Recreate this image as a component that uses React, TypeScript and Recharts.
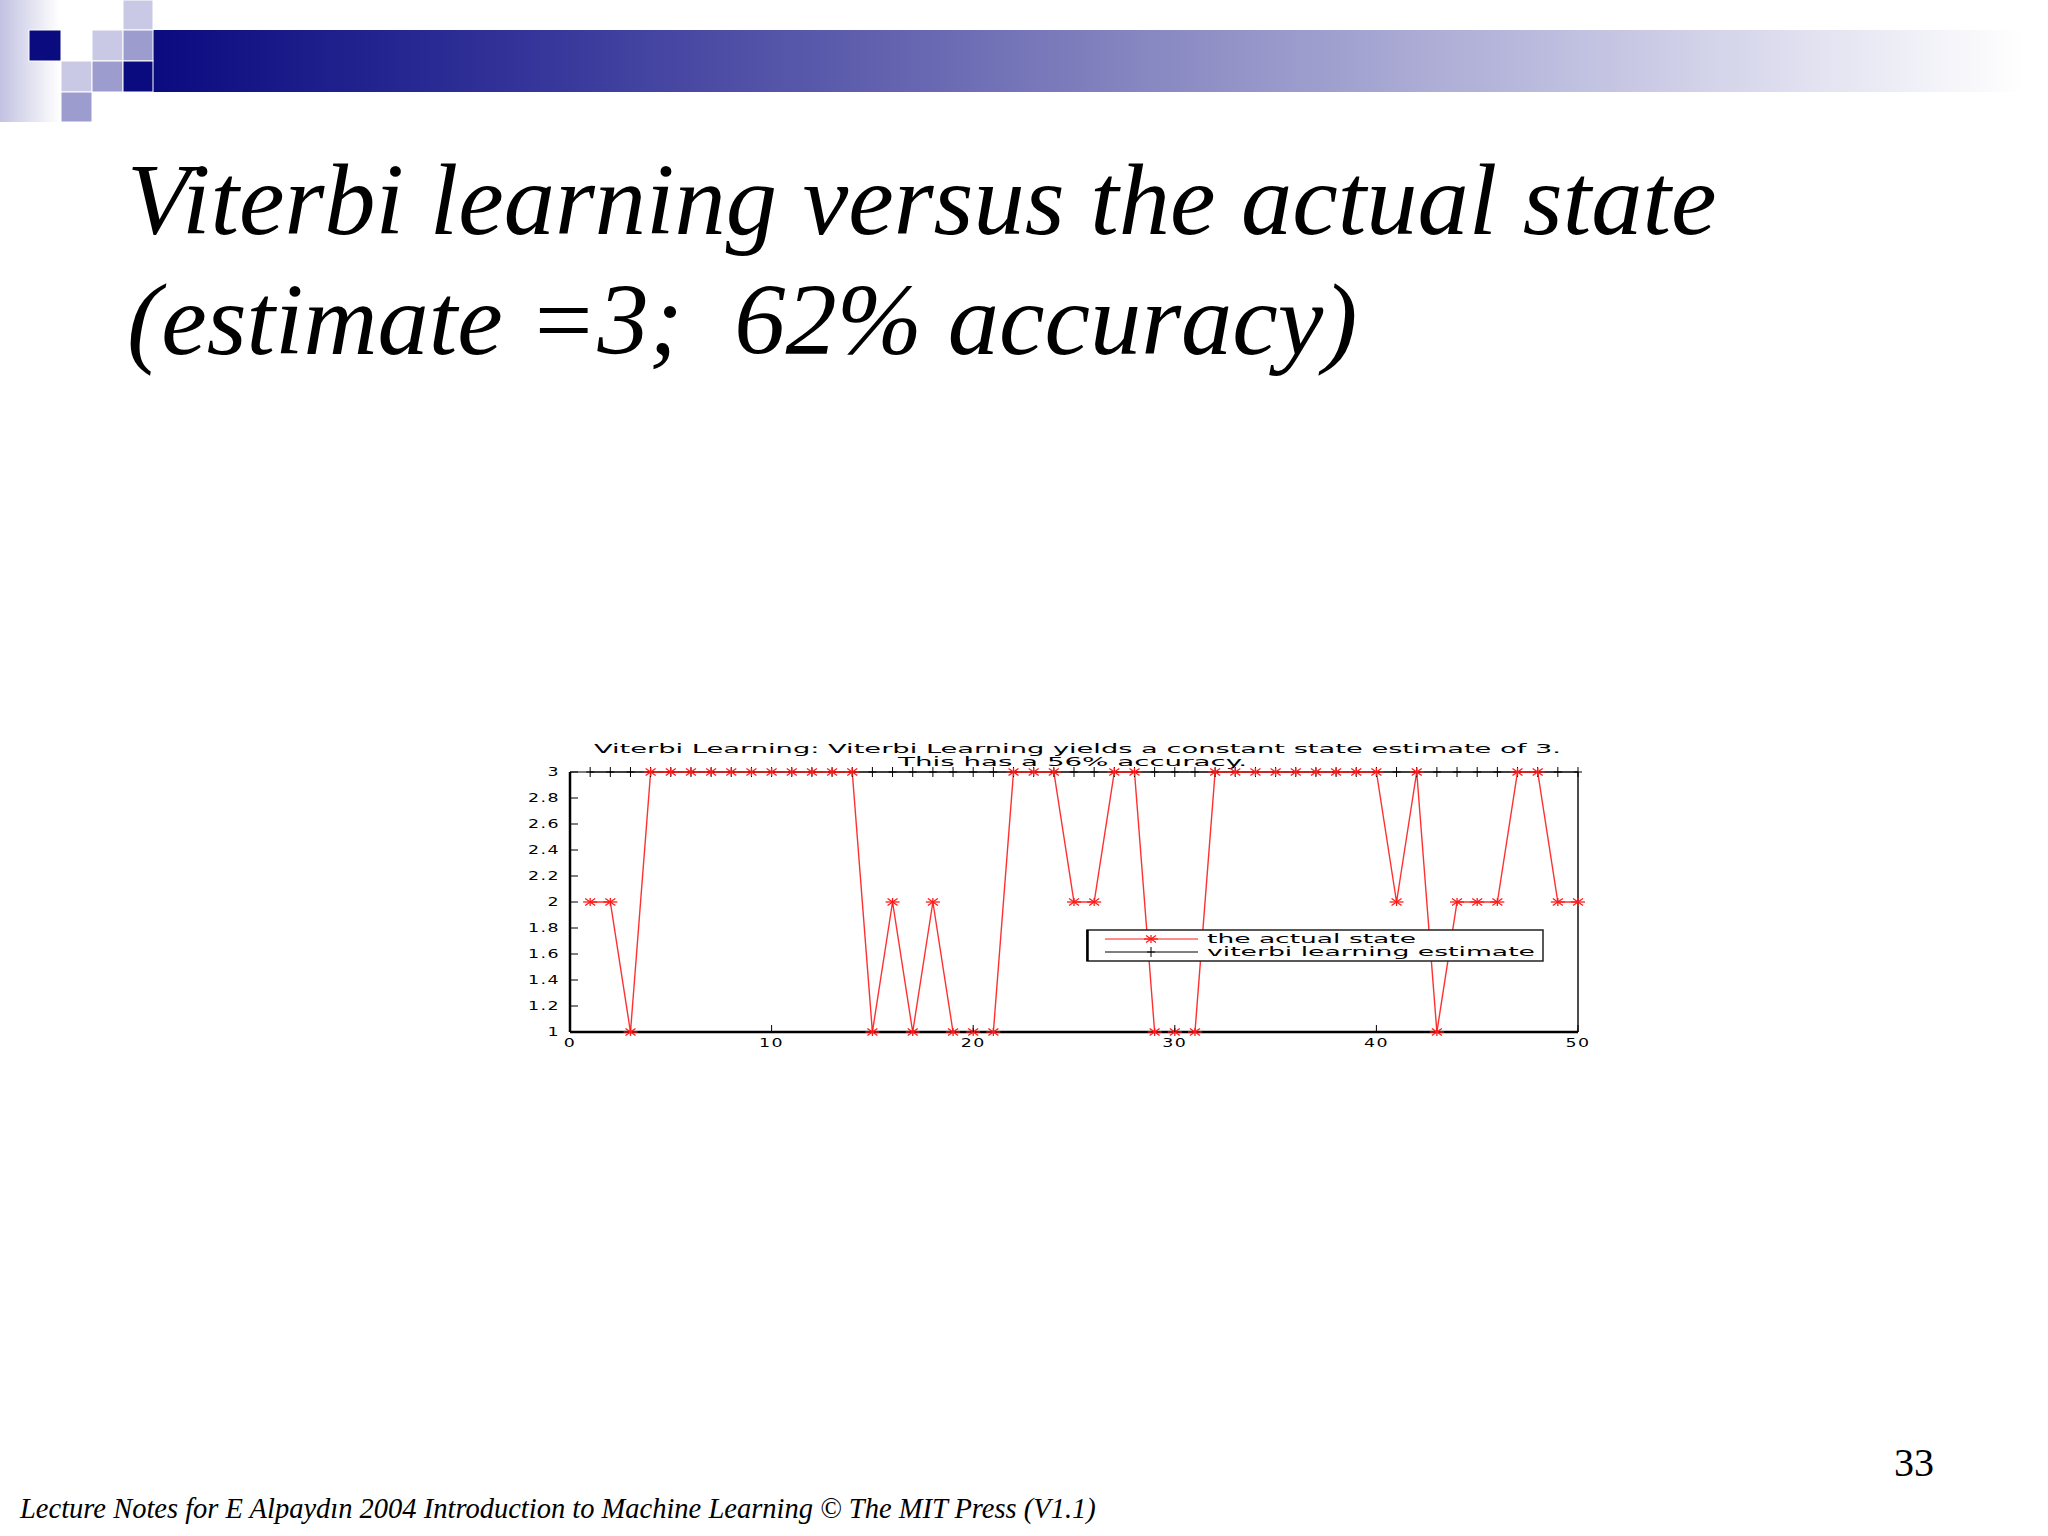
import { LineChart, Line, XAxis, YAxis, ReferenceLine } from 'recharts';

// time steps and the two state sequences
const timeSteps = [
    1, 2, 3, 4, 5, 6, 7, 8, 9, 10,
    11, 12, 13, 14, 15, 16, 17, 18, 19, 20,
    21, 22, 23, 24, 25, 26, 27, 28, 29, 30,
    31, 32, 33, 34, 35, 36, 37, 38, 39, 40,
    41, 42, 43, 44, 45, 46, 47, 48, 49, 50,
];
const actualState = [
    2, 2, 1, 3, 3, 3, 3, 3, 3, 3,
    3, 3, 3, 3, 1, 2, 1, 2, 1, 1,
    1, 3, 3, 3, 2, 2, 3, 3, 1, 1,
    1, 3, 3, 3, 3, 3, 3, 3, 3, 3,
    2, 3, 1, 2, 2, 2, 3, 3, 2, 2,
];
const viterbiEstimate = [
    3, 3, 3, 3, 3, 3, 3, 3, 3, 3,
    3, 3, 3, 3, 3, 3, 3, 3, 3, 3,
    3, 3, 3, 3, 3, 3, 3, 3, 3, 3,
    3, 3, 3, 3, 3, 3, 3, 3, 3, 3,
    3, 3, 3, 3, 3, 3, 3, 3, 3, 3,
];
const xTicks = [0, 10, 20, 30, 40, 50];
const yTicks = [1, 1.2, 1.4, 1.6, 1.8, 2, 2.2, 2.4, 2.6, 2.8, 3];
const plotTitle = [
    'Viterbi Learning:  Viterbi Learning yields a constant state estimate of 3.',
    'This has a 56% accuracy.',
];
const legendLabels = ['the actual state', 'viterbi learning estimate'];
const slideTitle = ['Viterbi learning versus the actual state', '(estimate =3;  62% accuracy)'];
const footer = 'Lecture Notes for E Alpaydın 2004 Introduction to Machine Learning © The MIT Press (V1.1)';
const pageNumber = '33';

const data = timeSteps.map((t, i) => ({ t, actual: actualState[i], viterbi: viterbiEstimate[i] }));

const RED = '#ff1a1a';
const MONO = 'DejaVu Sans';

const fmt = (v: number) => String(Math.round(v * 10) / 10);

// matlab-ish stretched label
const WideText = ({ x, y, anchor, children, size = 12 }: any) => (
    <text
        transform={`translate(${x},${y}) scale(1.45,1)`}
        textAnchor={anchor}
        fontSize={size}
        fontFamily={MONO}
        letterSpacing={1}
        fill="#000"
    >
        {children}
    </text>
);

const LeftTick = (props: any) => {
    const { x, y, payload } = props;
    return (
        <g>
            <line x1={x + 10} x2={x + 18} y1={y} y2={y} stroke="#000" strokeWidth={1} />
            <WideText x={x} y={y + 4} anchor="end">{fmt(payload.value)}</WideText>
        </g>
    );
};

const RightTick = (props: any) => {
    const { x, y } = props;
    return <line x1={x} x2={x - 8} y1={y} y2={y} stroke="#000" strokeWidth={1} />;
};

const BottomTick = (props: any) => {
    const { x, y, payload } = props;
    return (
        <g>
            <line x1={x} x2={x} y1={y - 10} y2={y - 17} stroke="#000" strokeWidth={1} />
            <WideText x={x} y={y + 5} anchor="middle">{fmt(payload.value)}</WideText>
        </g>
    );
};

const StarDot = ({ cx, cy }: any) => {
    if (cx == null || cy == null) return null;
    return (
        <g stroke={RED} strokeWidth={1.3}>
            <line x1={cx - 7} x2={cx + 7} y1={cy} y2={cy} />
            <line x1={cx} x2={cx} y1={cy - 4} y2={cy + 4} />
            <line x1={cx - 5} x2={cx + 5} y1={cy - 3.5} y2={cy + 3.5} />
            <line x1={cx - 5} x2={cx + 5} y1={cy + 3.5} y2={cy - 3.5} />
        </g>
    );
};

const PlusDot = ({ cx, cy }: any) => {
    if (cx == null || cy == null) return null;
    return (
        <g stroke="#000" strokeWidth={1}>
            <line x1={cx - 4} x2={cx + 4} y1={cy} y2={cy} />
            <line x1={cx} x2={cx} y1={cy - 5} y2={cy + 5} />
        </g>
    );
};

const LegendBox = () => (
    <svg width={458} height={33} style={{ display: 'block' }}>
        <rect x={1} y={1} width={456} height={31} fill="#fff" stroke="#222" strokeWidth={1.5} />
        <line x1={1.5} x2={1.5} y1={1} y2={32} stroke="#000" strokeWidth={2.5} />
        <line x1={19} x2={112} y1={10} y2={10} stroke={RED} strokeWidth={1.2} />
        <StarDot cx={65} cy={10} />
        <line x1={19} x2={112} y1={23} y2={23} stroke="#000" strokeWidth={1} />
        <PlusDot cx={65} cy={23} />
        <text x={121} y={14} fontSize={11.5} fontFamily={MONO} textLength={209} lengthAdjust="spacingAndGlyphs">
            {legendLabels[0]}
        </text>
        <text x={121} y={27} fontSize={11.5} fontFamily={MONO} textLength={328} lengthAdjust="spacingAndGlyphs">
            {legendLabels[1]}
        </text>
    </svg>
);

const light = '#c9c9e6';
const mid = '#9c9ccf';
const navy = '#0b0b80';

const App = () => {
    return (
        <div style={{ position: 'absolute', left: 0, top: 0, width: 2048, height: 1536, background: '#fff', overflow: 'hidden' }}>
            {/* slide decoration */}
            <svg width={2048} height={130} style={{ position: 'absolute', left: 0, top: 0 }}>
                <defs>
                    <linearGradient id="strip" x1="0" x2="1" y1="0" y2="0">
                        <stop offset="0" stopColor="#c2c2e2" />
                        <stop offset="1" stopColor="#ffffff" />
                    </linearGradient>
                    <linearGradient id="bar" x1="0" x2="1" y1="0" y2="0">
                        <stop offset="0" stopColor="#0b0b80" />
                        <stop offset="0.2" stopColor="#34349a" />
                        <stop offset="0.4" stopColor="#6464b0" />
                        <stop offset="0.55" stopColor="#8c8cc4" />
                        <stop offset="0.75" stopColor="#bdbddf" />
                        <stop offset="1" stopColor="#ffffff" />
                    </linearGradient>
                </defs>
                <rect x={0} y={0} width={60} height={122} fill="url(#strip)" />
                <rect x={153} y={30} width={1870} height={62} fill="url(#bar)" />
                <g stroke="#fff" strokeWidth={1}>
                    <rect x={29} y={30} width={32} height={31} fill={navy} />
                    <rect x={61} y={61} width={31} height={31} fill={light} />
                    <rect x={61} y={92} width={31} height={30} fill={mid} />
                    <rect x={92} y={30} width={31} height={31} fill={light} />
                    <rect x={92} y={61} width={31} height={31} fill={mid} />
                    <rect x={123} y={0} width={30} height={30} fill={light} />
                    <rect x={123} y={30} width={30} height={31} fill={mid} />
                    <rect x={123} y={61} width={30} height={31} fill={navy} />
                </g>
            </svg>

            <div
                style={{
                    position: 'absolute', left: 127, top: 140, fontFamily: 'Liberation Serif', fontStyle: 'italic',
                    fontSize: 102.5, lineHeight: '120px', whiteSpace: 'pre', color: '#000',
                }}
            >
                {slideTitle[0]}
                {'\n'}
                {slideTitle[1]}
            </div>

            {/* plot title */}
            <svg width={1120} height={45} style={{ position: 'absolute', left: 500, top: 730 }}>
                <text x={94} y={23} fontSize={13} fontFamily={MONO} textLength={967} lengthAdjust="spacingAndGlyphs">
                    {plotTitle[0]}
                </text>
                <text x={398} y={36} fontSize={13} fontFamily={MONO} textLength={349} lengthAdjust="spacingAndGlyphs">
                    {plotTitle[1]}
                </text>
            </svg>

            <div style={{ position: 'absolute', left: 500, top: 730 }}>
                <LineChart width={1120} height={340} data={data} margin={{ top: 42, right: 32, bottom: 13, left: 30 }}>
                    <XAxis
                        dataKey="t"
                        type="number"
                        domain={[0, 50]}
                        ticks={xTicks}
                        interval={0}
                        height={25}
                        tickSize={0}
                        tickMargin={10}
                        tickLine={false}
                        tick={BottomTick}
                        axisLine={{ stroke: '#000', strokeWidth: 2.5 }}
                    />
                    <YAxis
                        yAxisId="left"
                        type="number"
                        domain={[1, 3]}
                        ticks={yTicks}
                        interval={0}
                        width={40}
                        tickSize={0}
                        tickMargin={10}
                        tickLine={false}
                        tick={LeftTick}
                        axisLine={{ stroke: '#000', strokeWidth: 2.5 }}
                    />
                    <YAxis
                        yAxisId="right"
                        orientation="right"
                        type="number"
                        domain={[1, 3]}
                        ticks={yTicks}
                        interval={0}
                        width={10}
                        tickSize={0}
                        tickMargin={0}
                        tickLine={false}
                        tick={RightTick}
                        axisLine={{ stroke: '#111', strokeWidth: 1.5 }}
                    />
                    <ReferenceLine yAxisId="left" y={3} stroke="#000" strokeWidth={1} />
                    <Line
                        yAxisId="left"
                        dataKey="viterbi"
                        stroke="#000"
                        strokeWidth={1}
                        dot={(p: any) => <PlusDot key={`p${p.index}`} cx={p.cx} cy={p.cy} />}
                        isAnimationActive={false}
                    />
                    <Line
                        yAxisId="left"
                        dataKey="actual"
                        stroke={RED}
                        strokeWidth={1.4}
                        strokeOpacity={0.9}
                        dot={(p: any) => <StarDot key={`s${p.index}`} cx={p.cx} cy={p.cy} />}
                        isAnimationActive={false}
                    />
                </LineChart>
            </div>

            {/* legend box over the plot */}
            <div style={{ position: 'absolute', left: 1086, top: 929 }}>
                <LegendBox />
            </div>

            <div
                style={{
                    position: 'absolute', left: 1894, top: 1443, fontFamily: 'Liberation Serif', fontSize: 40,
                    lineHeight: 1, color: '#000',
                }}
            >
                {pageNumber}
            </div>
            <div
                style={{
                    position: 'absolute', left: 20, top: 1495, fontFamily: 'Liberation Serif', fontStyle: 'italic',
                    fontSize: 28.5, lineHeight: 1, whiteSpace: 'pre', color: '#000',
                }}
            >
                {footer}
            </div>
        </div>
    );
};

export default App;
